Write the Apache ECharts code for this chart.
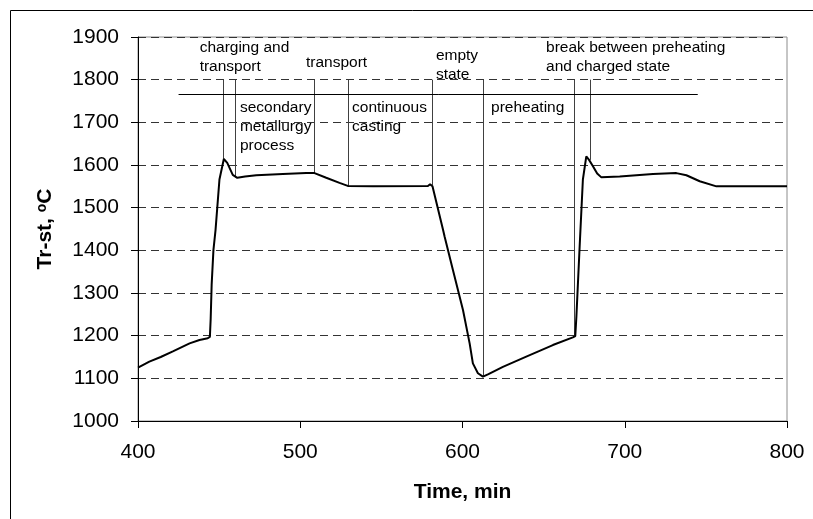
<!DOCTYPE html>
<html>
<head>
<meta charset="utf-8">
<script src="https://cdn.jsdelivr.net/npm/echarts@6/dist/echarts.min.js"></script>
<style>html,body{margin:0;padding:0;background:#fff;overflow:hidden;}#c{width:813px;height:519px;}</style>
</head>
<body>
<div id="c"></div>
<script>
// Curve: time (min) and temperature (°C)
const timeMin = [400, 407, 414, 421.5, 431.8, 437.9, 443, 444.3, 444.8, 445.4, 446.5, 447.8, 450.2, 452.9, 455, 458.4, 461.2, 466, 472.9, 489.3, 503.7, 508.8, 516, 524.2, 529.3, 545, 578.7, 580, 581.5, 588, 589, 594.1, 600.3, 604.4, 606.4, 609.5, 612.6, 616, 624.9, 639.3, 655.7, 668, 669.5, 670.2, 672.2, 674.2, 676.3, 678, 680.4, 683, 685.6, 696.9, 717.4, 731.8, 738, 746.2, 756.5, 800];
const tempC   = [1125, 1139, 1150, 1163, 1182, 1190, 1194, 1197, 1240, 1320, 1401, 1448, 1566, 1614, 1605, 1577, 1570, 1573, 1576, 1579, 1581, 1581, 1570, 1558, 1551, 1550, 1551, 1555, 1550, 1448, 1432, 1354, 1260, 1182, 1135, 1112, 1104, 1110, 1127, 1151, 1178, 1196, 1199, 1245, 1409, 1566, 1620, 1612, 1597, 1580, 1571, 1573, 1579, 1581, 1576, 1562, 1550, 1550];

// Phase boundary markers
const markerTimes   = [452.7, 460.1, 508.8, 529.3, 581.1, 612.6, 669.1, 679];
const markerBottoms = [1614, 1571, 1581, 1551, 1553, 1104, 1198, 1612];
const markerTop = 1800;
const barLineStart = [425, 1765];
const barLineEnd = [745, 1765];

// Phase labels (top-left anchor in data coords)
const labelTexts = ['charging and\ntransport', 'transport', 'secondary\nmetallurgy\nprocess', 'continuous\ncasting', 'empty\nstate', 'preheating', 'break between preheating\nand charged state'];
const labelTimes = [438.0, 503.5, 462.8, 531.9, 583.6, 617.6, 651.5];
const labelTemps = [1897, 1862, 1756, 1756, 1879, 1756, 1897];

// Axis ticks
const xTicks = [400, 500, 600, 700, 800];
const yTicks = [1000, 1100, 1200, 1300, 1400, 1500, 1600, 1700, 1800, 1900];

const FONT = 'Liberation Sans, Arial, sans-serif';
const chart = echarts.init(document.getElementById('c'), null, {renderer: 'canvas'});

const markData = markerTimes.map((t, i) => [{coord: [t, markerTop]}, {coord: [t, markerBottoms[i]]}]);
markData.push([{coord: barLineStart, lineStyle: {color: '#000'}}, {coord: barLineEnd}]);

chart.setOption({
  animation: false,
  backgroundColor: '#fff',
  graphic: [{
    type: 'rect', silent: true, z: 0,
    shape: {x: 10.5, y: 10.5, width: 900, height: 600},
    style: {fill: 'none', stroke: '#000', lineWidth: 1}
  }],
  grid: {left: 138, top: 37, width: 649, height: 384, show: true, borderColor: '#8c8c8c', borderWidth: 1, backgroundColor: 'transparent'},
  xAxis: {
    type: 'value', min: xTicks[0], max: xTicks[xTicks.length - 1], interval: 100,
    name: 'Time, min', nameLocation: 'middle', nameGap: 61,
    nameTextStyle: {fontSize: 21, fontWeight: 'bold', color: '#000', fontFamily: FONT},
    axisLine: {show: true, lineStyle: {color: '#000', width: 1}},
    axisTick: {show: true, length: 7, lineStyle: {color: '#000'}},
    axisLabel: {fontSize: 21, color: '#000', fontFamily: FONT, margin: 21, formatter: v => String(v)},
    splitLine: {show: false}
  },
  yAxis: {
    type: 'value', min: yTicks[0], max: yTicks[yTicks.length - 1], interval: 100,
    name: 'Tr-st, {sup|o}C', nameLocation: 'middle', nameGap: 82, nameRotate: 90,
    nameTextStyle: {fontSize: 21, fontWeight: 'bold', color: '#000', fontFamily: FONT,
      rich: {sup: {fontSize: 14, fontWeight: 'bold', color: '#000', fontFamily: FONT, verticalAlign: 'top'}}},
    axisLine: {show: true, lineStyle: {color: '#000', width: 1}},
    axisTick: {show: true, length: 7, lineStyle: {color: '#000'}},
    axisLabel: {fontSize: 21, color: '#000', fontFamily: FONT, margin: 19, formatter: v => String(v)},
    splitLine: {show: true, lineStyle: {color: '#333', type: [8, 5], width: 1}}
  },
  series: [{
    type: 'line',
    data: timeMin.map((t, i) => [t, tempC[i]]),
    showSymbol: false, symbol: 'none',
    lineStyle: {color: '#000', width: 2},
    z: 5,
    markLine: {
      silent: true, symbol: ['none', 'none'], label: {show: false},
      lineStyle: {color: '#404040', width: 1, type: 'solid'},
      data: markData
    }
  }, {
    type: 'custom',
    data: labelTimes.map((t, i) => [t, labelTemps[i]]),
    renderItem: function (params, api) {
      const p = api.coord([api.value(0), api.value(1)]);
      return {
        type: 'text', x: p[0], y: p[1],
        style: {text: labelTexts[params.dataIndex], fill: '#000', fontSize: 15.5, fontFamily: FONT,
          align: 'left', verticalAlign: 'top', lineHeight: 19}
      };
    },
    z: 6
  }]
});
</script>
</body>
</html>
